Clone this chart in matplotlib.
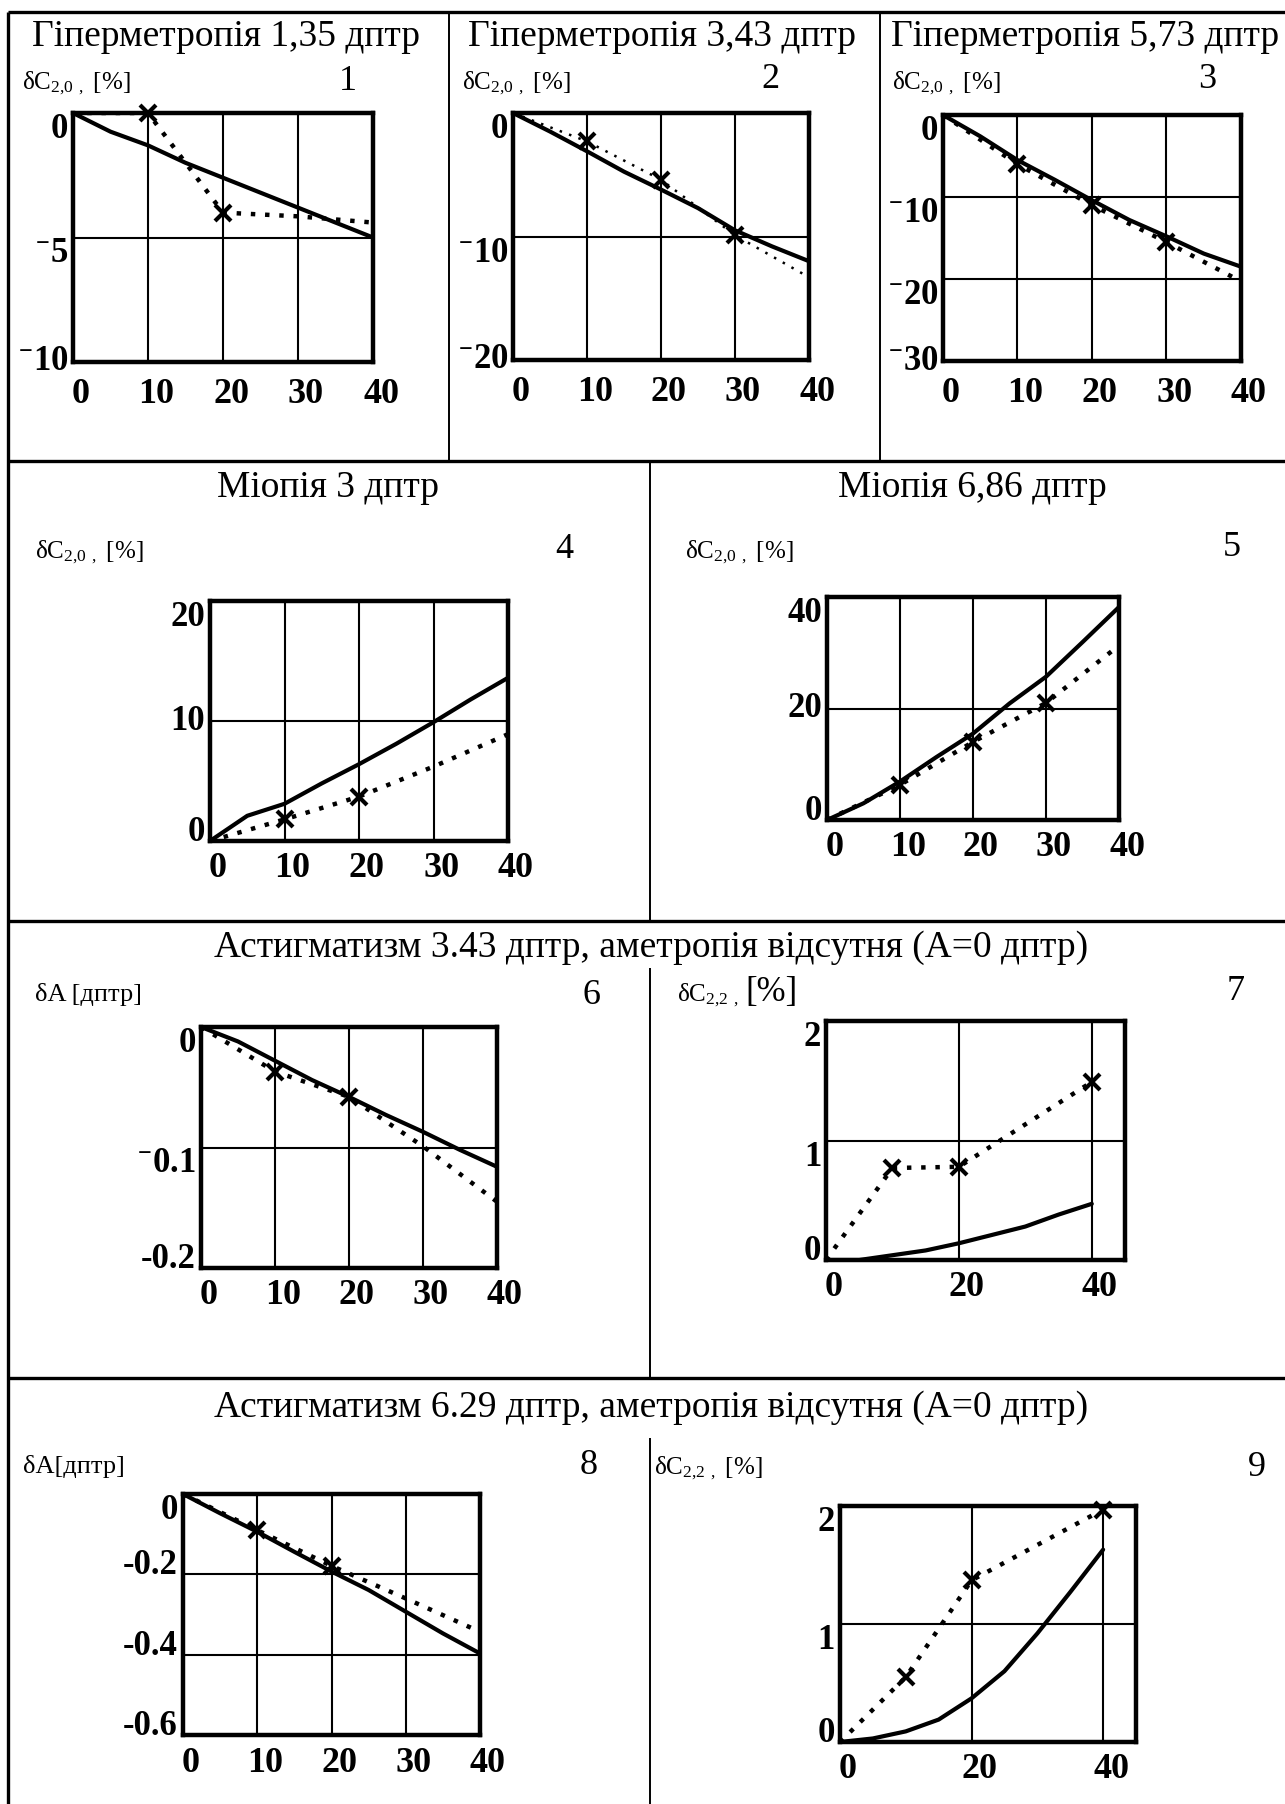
import matplotlib
matplotlib.use('Agg')
import matplotlib.pyplot as plt
from matplotlib.transforms import offset_copy

W, H = 1285, 1804
SERIF = ['Liberation Serif', 'DejaVu Serif']
plt.rcParams['font.family'] = SERIF
plt.rcParams['mathtext.fontset'] = 'custom'
plt.rcParams['mathtext.rm'] = 'Liberation Serif'
plt.rcParams['mathtext.default'] = 'regular'

# ---- data ----
x9 = [0, 5, 10, 15, 20, 25, 30, 35, 40]

# 1: hypermetropia 1.35
p1_solid = [0, -0.75, -1.3, -2.0, -2.6, -3.2, -3.8, -4.4, -5.0]
p1_dx = [0, 10, 20, 30, 40]
p1_dot = [0, 0, -4.0, -4.15, -4.4]
p1_marks = [1, 2]

# 2: hypermetropia 3.43
p2_solid = [0, -1.5, -3.1, -4.75, -6.2, -7.7, -9.5, -10.8, -12.0]
p2_dx = [0, 10, 20, 30, 40]
p2_dot = [0, -2.3, -5.4, -9.9, -13.3]
p2_marks = [1, 2, 3]

# 3: hypermetropia 5.73
p3_solid = [0, -2.6, -5.5, -7.9, -10.4, -12.8, -14.8, -16.9, -18.5]
p3_dx = [0, 10, 20, 30, 40]
p3_dot = [0, -6.0, -11.0, -15.5, -20.3]
p3_marks = [1, 2, 3]

# 4: myopia 3
p4_solid = [0, 2.1, 3.1, 4.8, 6.4, 8.1, 9.9, 11.8, 13.6]
p4_dx = [0, 10, 20, 30, 40]
p4_dot = [0, 1.8, 3.7, 6.2, 8.9]
p4_marks = [1, 2]

# 5: myopia 6.86
p5_solid = [0, 3.0, 6.9, 11.3, 15.5, 20.9, 25.7, 31.9, 38.2]
p5_dx = [0, 10, 20, 30, 40]
p5_dot = [0, 6.3, 14.0, 21.0, 31.3]
p5_marks = [1, 2, 3]

# 6: astigmatism 3.43, dA
p6_solid = [0, -0.012, -0.028, -0.044, -0.058, -0.073, -0.087, -0.102, -0.116]
p6_dx = [0, 10, 20, 30, 40]
p6_dot = [0, -0.037, -0.058, -0.099, -0.145]
p6_marks = [1, 2]

# 7: astigmatism 3.43, dC22
p7_solid = [0, 0.0, 0.04, 0.08, 0.14, 0.21, 0.28, 0.38, 0.47]
p7_dx = [0, 10, 20, 40]
p7_dot = [0, 0.77, 0.78, 1.49]
p7_marks = [1, 2, 3]

# 8: astigmatism 6.29, dA
p8_solid = [0, -0.048, -0.094, -0.144, -0.193, -0.239, -0.293, -0.347, -0.397]
p8_dx = [0, 10, 20, 30, 40]
p8_dot = [0, -0.09, -0.179, -0.26, -0.343]
p8_marks = [1, 2]

# 9: astigmatism 6.29, dC22
p9_solid = [0, 0.03, 0.09, 0.19, 0.37, 0.6, 0.92, 1.27, 1.63]
p9_dx = [0, 10, 20, 40]
p9_dot = [0, 0.55, 1.37, 1.97]
p9_marks = [1, 2, 3]

xt5 = [0, 10, 20, 30, 40]
xt3 = [0, 20, 40]

SUPM = '$^{-}$'  # raised minus as in the scan

fig = plt.figure(figsize=(W / 100, H / 100), dpi=100)
bg = fig.add_axes([0, 0, 1, 1])
bg.set_xlim(0, W)
bg.set_ylim(H, 0)
bg.axis('off')


def box(l, t, r, b):
    return fig.add_axes([l / W, 1 - b / H, (r - l) / W, (b - t) / H])


def panel(rect, solid, dx, dot, marks, ylim, xgrid, ygrid, yt, ytl, yva,
          xlim=(0, 40), xt=xt5, xpad=14, dot_lw=3.2, dash=(1, 2.2)):
    ax = box(*rect)
    ax.set_xlim(*xlim)
    ax.set_ylim(*ylim)
    ax.set_xticks(xgrid)
    ax.set_yticks(ygrid)
    ax.tick_params(length=0, labelbottom=False, labelleft=False)
    ax.grid(True, color='k', lw=1.5)
    for s in ax.spines.values():
        s.set_linewidth(3.2)
    ax.plot(x9, solid, color='k', lw=3.0, solid_capstyle='round')
    ax.plot(dx, dot, color='k', lw=dot_lw, linestyle=(0, dash),
            dash_capstyle='butt')
    ax.plot([dx[i] for i in marks], [dot[i] for i in marks], 'kx',
            ms=12, mew=3, clip_on=False)
    tx = offset_copy(ax.get_xaxis_transform(), fig=fig, x=8, y=-xpad, units='dots')
    for v in xt:
        ax.text(v, 0, str(v), transform=tx, ha='center', va='top',
                fontsize=26, fontweight='bold', family=SERIF)
    ty = offset_copy(ax.get_yaxis_transform(), fig=fig, x=-5, y=0, units='dots')
    for v, s, va in zip(yt, ytl, yva):
        ax.text(0, v, s, transform=ty, ha='right', va=va,
                fontsize=25, fontweight='bold', family=SERIF)
    return ax


# row 1
panel((73, 113, 373, 362), p1_solid, p1_dx, p1_dot, p1_marks, (-10, 0),
      [10, 20, 30], [-5], [0, -5, -10], ['0', SUPM + '5', SUPM + '10'],
      ['top', 'top', 'center'], xpad=16)
panel((513, 113, 809, 360), p2_solid, p2_dx, p2_dot, p2_marks, (-20, 0),
      [10, 20, 30], [-10], [0, -10, -20], ['0', SUPM + '10', SUPM + '20'],
      ['top', 'top', 'center'], xpad=16, dot_lw=1.8, dash=(1, 3))
panel((943, 115, 1241, 361), p3_solid, p3_dx, p3_dot, p3_marks, (-30, 0),
      [10, 20, 30], [-10, -20], [0, -10, -20, -30],
      ['0', SUPM + '10', SUPM + '20', SUPM + '30'],
      ['top', 'top', 'top', 'center'], xpad=16)
# row 2
panel((210, 601, 508, 841), p4_solid, p4_dx, p4_dot, p4_marks, (0, 20),
      [10, 20, 30], [10], [20, 10, 0], ['20', '10', '0'],
      ['top', 'center', 'baseline'], xpad=11)
panel((827, 597, 1119, 820), p5_solid, p5_dx, p5_dot, p5_marks, (0, 40),
      [10, 20, 30], [20], [40, 20, 0], ['40', '20', '0'],
      ['top', 'center', 'baseline'], xpad=11)
# row 3
panel((201, 1027, 497, 1268), p6_solid, p6_dx, p6_dot, p6_marks, (-0.2, 0),
      [10, 20, 30], [-0.1], [0, -0.1, -0.2], ['0', SUPM + '0.1', '-0.2'],
      ['top', 'top', 'baseline'], xpad=11)
panel((826, 1021, 1125, 1260), p7_solid, p7_dx, p7_dot, p7_marks, (0, 2),
      [20, 40], [1], [2, 1, 0], ['2', '1', '0'],
      ['top', 'top', 'baseline'], xlim=(0, 45), xt=xt3, xpad=11)
# row 4
panel((183, 1494, 480, 1735), p8_solid, p8_dx, p8_dot, p8_marks, (-0.6, 0),
      [10, 20, 30], [-0.2, -0.4], [0, -0.2, -0.4, -0.6], ['0', '-0.2', '-0.4', '-0.6'],
      ['top', 'baseline', 'baseline', 'baseline'], xpad=12)
panel((840, 1506, 1136, 1742), p9_solid, p9_dx, p9_dot, p9_marks, (0, 2),
      [20, 40], [1], [2, 1, 0], ['2', '1', '0'],
      ['top', 'top', 'baseline'], xlim=(0, 45), xt=xt3, xpad=11)

# ---- table frame ----
thick = dict(color='k', lw=2.4, solid_capstyle='butt')
thin = dict(color='k', lw=1.4, solid_capstyle='butt')
bg.plot([8, W], [12, 12], **thick)
bg.plot([8, 8], [12, H], **thick)
for y in (461, 921, 1378):
    bg.plot([8, W], [y, y], **thick)
bg.plot([449, 449], [12, 461], **thin)
bg.plot([880, 880], [12, 461], **thin)
bg.plot([650, 650], [461, 921], **thin)
bg.plot([650, 650], [968, 1378], **thin)
bg.plot([650, 650], [1438, H], **thin)

# ---- titles ----
tkw = dict(ha='center', va='center', fontsize=27)
bg.text(226, 37, 'Гіперметропія 1,35 дптр', **tkw)
bg.text(662, 37, 'Гіперметропія 3,43 дптр', **tkw)
bg.text(1085, 37, 'Гіперметропія 5,73 дптр', **tkw)
bg.text(328, 488, 'Міопія 3 дптр', **tkw)
bg.text(972, 488, 'Міопія 6,86 дптр', **tkw)
bg.text(651, 948, 'Астигматизм 3.43 дптр, аметропія відсутня (А=0 дптр)', **tkw)
bg.text(651, 1408, 'Астигматизм 6.29 дптр, аметропія відсутня (А=0 дптр)', **tkw)

# ---- axis names ----
C20 = 'δC$_{2{,}0\\ ,}$ [%]'
lkw = dict(ha='left', va='center', fontsize=18)
bg.text(22, 83, C20, **lkw)
bg.text(462, 83, C20, **lkw)
bg.text(892, 83, C20, **lkw)
bg.text(35, 552, C20, **lkw)
bg.text(685, 552, C20, **lkw)
bg.text(35, 995, 'δA [дптр]', ha='left', va='center', fontsize=19)
bg.text(677, 995, 'δC$_{2{,}2\\ ,}$', **lkw)
bg.text(745, 993, '[%]', ha='left', va='center', fontsize=25)
bg.text(23, 1467, 'δA[дптр]', ha='left', va='center', fontsize=19)
bg.text(654, 1468, 'δC$_{2{,}2\\ ,}$ [%]', **lkw)

# ---- panel numbers ----
nkw = dict(ha='center', va='center', fontsize=26)
for n, (x, y) in enumerate([(348, 82), (770, 80), (1207, 80), (564, 550), (1232, 548),
                            (591, 995), (1236, 992), (589, 1465), (1257, 1468)], 1):
    bg.text(x, y, str(n), **nkw)

fig.savefig('out.png', dpi=100, facecolor='white')
